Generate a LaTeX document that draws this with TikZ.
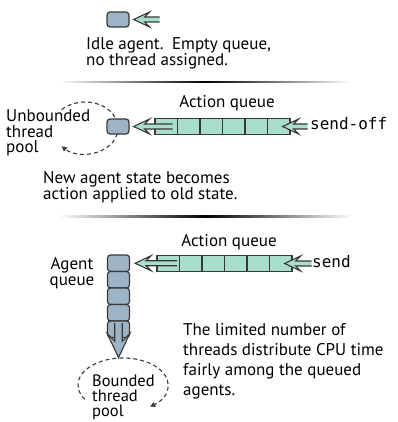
\documentclass[tikz,border=0pt]{standalone}
\usepackage{fontspec}
\setmainfont{PT Sans}
\setmonofont{DejaVu Sans Mono}
\usetikzlibrary{positioning,arrows.meta}
\definecolor{agentblue}{HTML}{9DB3C6}
\definecolor{queuemint}{HTML}{A9DDCC}
\definecolor{edgegray}{HTML}{383838}
\tikzset{
  every node/.append style={font=\fontsize{17}{16}\selectfont},
  agent/.style={draw=edgegray, fill=agentblue, line width=1.2pt, rounded corners=3pt,
    minimum width=22pt, minimum height=15pt, inner sep=0pt},
  qcell/.style={draw=edgegray, fill=queuemint, line width=1.2pt,
    minimum width=22.5pt, minimum height=16.5pt, inner sep=0pt},
  pool/.style={edgegray, line width=1.1pt, dash pattern=on 4pt off 3pt,
    -{Triangle[length=5pt,width=5pt]}},
  caption/.style={inner sep=0pt, align=left, anchor=base west},
  sepline/.style={left color=white, right color=white, middle color=black},
  pics/msgarrow/.style 2 args={code={
    \filldraw[draw=edgegray, fill=#1, line width=1.1pt, line join=miter]
      (#2,-2.5) -- (11,-2.5) -- (16,-7.5) -- (0,0) -- (16,7.5) -- (11,2.5) -- (#2,2.5);
  }},
}
\begin{document}
\begin{tikzpicture}[x=1pt, y=-1pt]
    \useasboundingbox (0,0) rectangle (397,422);
    % idle agent
    \node[agent] (idle) at (118,19.5) {};
    \pic at ([xshift=4pt]idle.east) {msgarrow={queuemint}{26}};
    \node[caption] (idlenote) at (86,66) {Idle agent.\hspace{0.5em}Empty queue,\\no thread assigned.};
    \shade[sepline] (58,81.4) rectangle (353,82.8);
    % send-off: unbounded pool
    \draw[pool] (85,128) ++(225:33 and 26) arc[start angle=225, end angle=495, x radius=33, y radius=26];
    \node[agent] (busy) at (118,126.5) {};
    \foreach \i in {1,...,6}
        \node[qcell] (a\i) at (143.75+22.5*\i,126.5) {};
    \pic at ([xshift=4pt]busy.east) {msgarrow={queuemint}{39}};
    \pic at ([xshift=-8pt]a6.east) {msgarrow={queuemint}{25}};
    \node[anchor=base, inner sep=0pt] (aqtop) at (227,108) {Action queue};
    \node[caption, font=\fontsize{16}{16}\ttfamily] (sendoff) at (310,130) {send-off};
    \node[caption, font=\fontsize{17}{15.5}\selectfont] (unbounded) at (6,153) {Unbounded\\thread\\pool};
    \node[caption] (newstate) at (43,199) {New agent state becomes\\action applied to old state.};
    \shade[sepline] (58,215.8) rectangle (353,217.2);
    % send: bounded pool
    \draw[pool] (123,385) ++(148:45 and 27) arc[start angle=148, end angle=413, x radius=45, y radius=27];
    \foreach \i in {1,...,5}
        \node[agent, minimum height=16.5pt] (q\i) at (118.5,246.75+16.5*\i) {};
    \foreach \i in {1,...,6}
        \node[qcell] (b\i) at (145.75+22.5*\i,263.5) {};
    \pic at ([xshift=5pt]q1.east) {msgarrow={queuemint}{42}};
    \pic at ([xshift=-8pt]b6.east) {msgarrow={queuemint}{27}};
    \pic[rotate=90, scale=1.5] at ([yshift=-19.5pt]q5.south) {msgarrow={agentblue}{23}};
    \node[anchor=base, inner sep=0pt] (aqbottom) at (229,246) {Action queue};
    \node[caption, font=\fontsize{16}{16}\ttfamily] (send) at (312,267) {send};
    \node[inner sep=0pt, align=center, anchor=base, font=\fontsize{17}{15.5}\selectfont] (agentq) at (72,285) {Agent\\queue};
    \node[caption, font=\fontsize{16.5}{15}\selectfont] (bounded) at (92,416) {Bounded\\thread\\pool};
    \node[caption, font=\fontsize{17}{19.7}\selectfont] (limited) at (183,395)
        {The limited number of\\threads distribute CPU time\\fairly among the queued\\agents.};
\end{tikzpicture}
\end{document}
